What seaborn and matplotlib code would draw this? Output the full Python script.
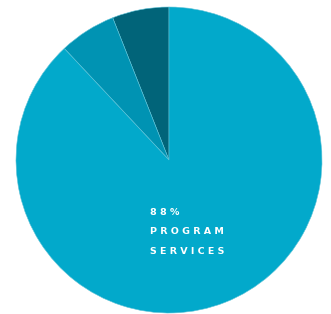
import matplotlib
matplotlib.use('Agg')
import matplotlib.pyplot as plt
import seaborn as sns

labels = ['Fundraising', 'Management', 'Program Services']
shares = [6, 6, 88]
colors = ['#016479', '#0093b3', '#02a9cb']

sns.set_style('white')

fig = plt.figure(figsize=(3.31, 3.14), dpi=100)
ax = fig.add_axes([16 / 331, 1 / 314, 306 / 331, 306 / 314])

ax.pie(shares, colors=colors, startangle=90, counterclock=True,
       wedgeprops=dict(edgecolor='#5fc3d8', linewidth=0.4))
ax.set_xlim(-1, 1)
ax.set_ylim(-1, 1)
ax.set_aspect('auto')
ax.axis('off')

txt = ['8 8 %', 'P R O G R A M', 'S E R V I C E S']
ys = [-0.345, -0.47, -0.60]
for t, y in zip(txt, ys):
    ax.text(-0.125, y, t, color='white', fontsize=6.8, fontweight='bold',
            ha='left', va='center', family='DejaVu Sans')

fig.savefig('out.png', dpi=100)
